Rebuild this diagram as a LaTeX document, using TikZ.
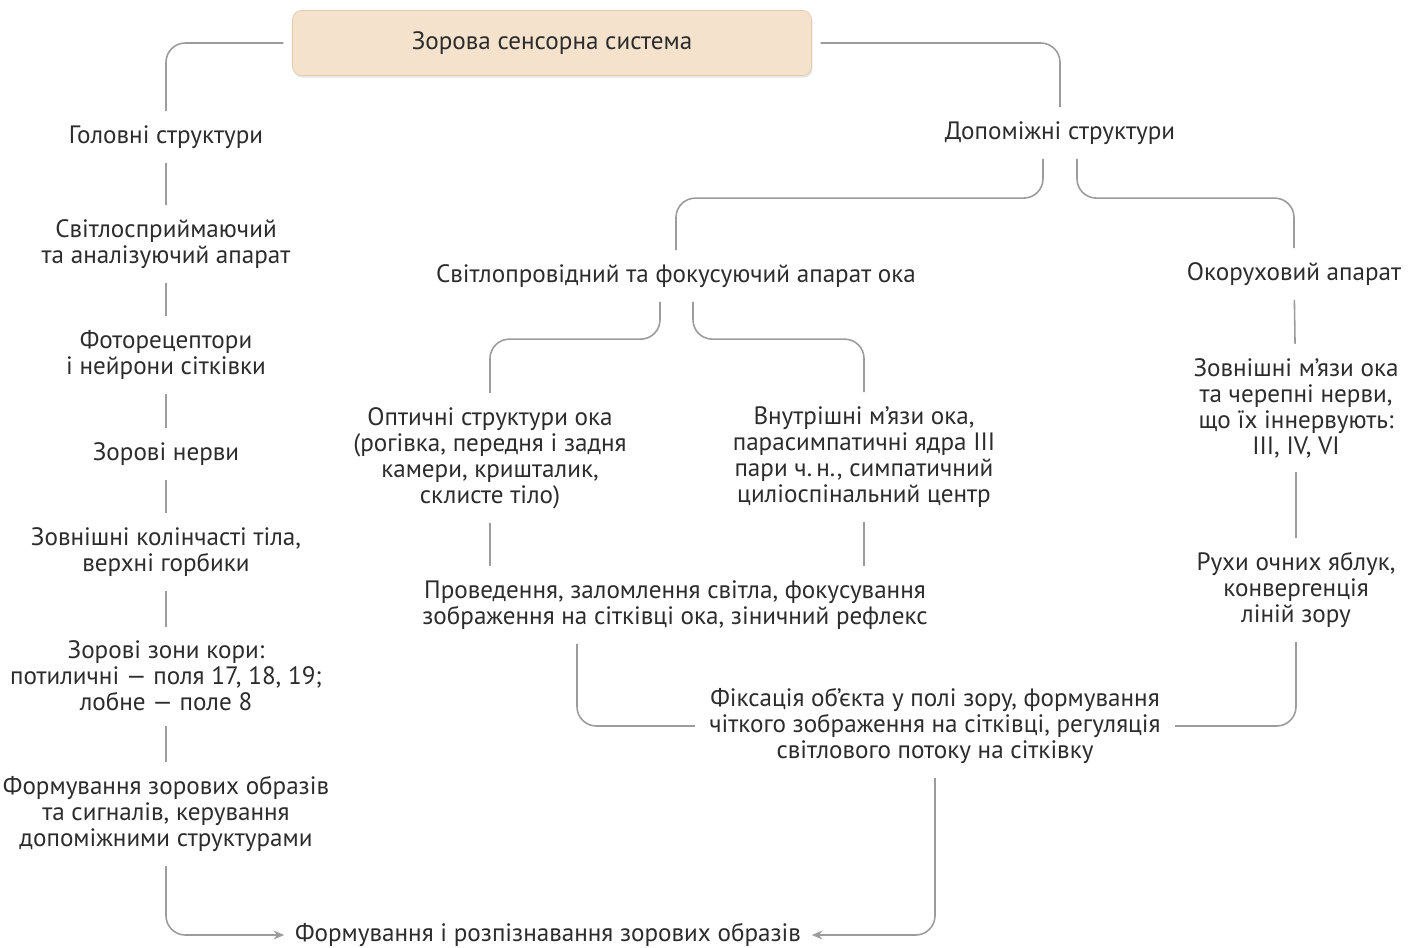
\documentclass[tikz,border=0pt]{standalone}
\usepackage{fontspec}
\setmainfont{PT Sans}
\usetikzlibrary{calc,arrows.meta,shadows}

\definecolor{ink}{HTML}{2C2C2C}
\definecolor{wire}{HTML}{9C9C9C}
\definecolor{sand}{HTML}{F4E2CD}
\definecolor{sandedge}{HTML}{E3CBAF}

\tikzset{
  lbl/.style={align=center, text=ink, inner sep=3pt, font=\fontsize{14.3}{14.8}\selectfont},
  ln/.style={draw=wire, line width=0.9pt, rounded corners=11pt, shorten <=5pt, shorten >=5pt},
  arr/.style={ln, -{Stealth[length=6pt,width=5pt]}, shorten >=3pt},
  head/.style={lbl, draw=sandedge, fill=sand, rounded corners=5pt, minimum width=10.38cm, minimum height=1.3cm,
               drop shadow={shadow xshift=0.6pt, shadow yshift=-1.2pt, opacity=0.2}}
}

\begin{document}
\begin{tikzpicture}[x=0.02cm, y=-0.02cm]
\useasboundingbox (0,0) rectangle (1416,947);

% root
\node[head] (top) at (552,43) {Зорова сенсорна система};

% main structures (left column)
\node[lbl] (gol)  at (166,137) {Головні структури};
\node[lbl] (svit) at (166,244) {Світлосприймаючий\\та аналізуючий апарат};
\node[lbl] (foto) at (166,355) {Фоторецептори\\і нейрони сітківки};
\node[lbl] (nerv) at (166,454) {Зорові нерви};
\node[lbl] (kol)  at (166,552) {Зовнішні колінчасті тіла,\\верхні горбики};
\node[lbl] (kora) at (166,676) {Зорові зони кори:\\потиличні — поля 17, 18, 19;\\лобне — поле 8};
\node[lbl] (form) at (166,814) {Формування зорових образів\\та сигналів, керування\\допоміжними структурами};

% auxiliary structures
\node[lbl] (dop)  at (1060,133) {Допоміжні структури};
\node[lbl] (svp)  at (676,276)  {Світлопровідний та фокусуючий апарат ока};
\node[lbl] (okor) at (1294,274) {Окоруховий апарат};
\node[lbl] (opt)  at (490,458)  {Оптичні структури ока\\(рогівка, передня і задня\\камери, кришталик,\\склисте тіло)};
\node[lbl] (vnut) at (864,457)  {Внутрішні м’язи ока,\\парасимпатичні ядра III\\пари ч.\,н., симпатичний\\циліоспінальний центр};
\node[lbl] (zovn) at (1296,408) {Зовнішні м’язи ока\\та черепні нерви,\\що їх іннервують:\\III, IV, VI};
\node[lbl] (prov) at (675,605)  {Проведення, заломлення світла, фокусування\\зображення на сітківці ока, зіничний рефлекс};
\node[lbl] (ruhy) at (1296,590) {Рухи очних яблук,\\конвергенція\\ліній зору};
\node[lbl] (fix)  at (935,726)  {Фіксація об’єкта у полі зору, формування\\чіткого зображення на сітківці, регуляція\\світлового потоку на сітківку};

% result
\node[lbl] (rozp) at (548,935) {Формування і розпізнавання зорових образів};

% links from the root
\draw[ln] (top.west) -| (gol.north);
\draw[ln] (top.east) -| (dop.north);

% left chain
\draw[ln] (gol) -- (svit);
\draw[ln] (svit) -- (foto);
\draw[ln] (foto) -- (nerv);
\draw[ln] (nerv) -- (kol);
\draw[ln] (kol) -- (kora);
\draw[ln] (kora) -- (form);
\draw[arr] (form.south) |- (rozp.west);

% auxiliary branches
\draw[ln] ($(dop.south)+(-17,0)$) -- ($(dop.south)+(-17,48)$) -| (svp.north);
\draw[ln] ($(dop.south)+(17,0)$) -- ($(dop.south)+(17,48)$) -| (okor.north);
\draw[ln] ($(svp.south)+(-16,0)$) -- ($(svp.south)+(-16,46)$) -| (opt.north);
\draw[ln] ($(svp.south)+(17,0)$) -- ($(svp.south)+(17,46)$) -| (vnut.north);
\draw[ln] (okor) -- (zovn);
\draw[ln] (zovn) -- (ruhy);
\draw[ln] (opt.south) -- (opt.south |- prov.north);
\draw[ln] (vnut.south) -- (vnut.south |- prov.north);
\draw[ln] ($(prov.south)+(-98,0)$) |- (fix.west);
\draw[ln] (ruhy.south) |- (fix.east);
\draw[arr] (fix.south) |- (rozp.east);
\end{tikzpicture}
\end{document}
